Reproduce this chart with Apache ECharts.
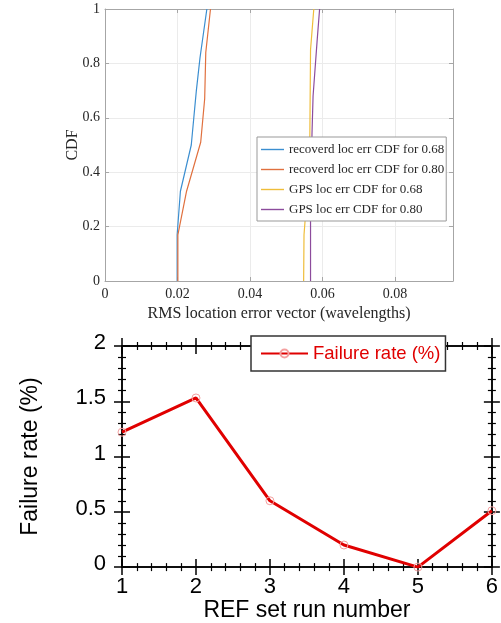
<!DOCTYPE html>
<html><head><meta charset="utf-8">
<script src="https://cdn.jsdelivr.net/npm/echarts@6/dist/echarts.min.js"></script>
<style>html,body{margin:0;padding:0;background:#fff}#c{width:501px;height:623px}</style>
</head><body><div id="c"></div>
<script>
// ---- Top chart: CDF of RMS location error ----
const seriesNamesTop = ['recoverd loc err CDF for 0.68', 'recoverd loc err CDF for 0.80', 'GPS loc err CDF for 0.68', 'GPS loc err CDF for 0.80'];
const rec068X = [0.0199, 0.0199, 0.0208, 0.0238, 0.0245, 0.0252, 0.0262, 0.0281];
const rec068Y = [0, 0.17, 0.33, 0.50, 0.60, 0.70, 0.82, 1];
const rec080X = [0.0201, 0.0201, 0.0225, 0.0264, 0.0275, 0.0278, 0.0291];
const rec080Y = [0, 0.17, 0.33, 0.51, 0.67, 0.84, 1];
const gps068X = [0.0548, 0.0549, 0.0553, 0.0565, 0.0567, 0.0576];
const gps068Y = [0, 0.17, 0.24, 0.52, 0.85, 1];
const gps080X = [0.0567, 0.0567, 0.0571, 0.0574, 0.0585, 0.0592];
const gps080Y = [0, 0.24, 0.54, 0.68, 0.88, 1];
const xTicksTop = [0, 0.02, 0.04, 0.06, 0.08];
const yTicksTop = [0, 0.2, 0.4, 0.6, 0.8, 1];

// ---- Bottom chart: failure rate ----
const runNumbers = [1, 2, 3, 4, 5, 6];
const failureRate = [1.22, 1.53, 0.60, 0.20, 0.00, 0.51];
const bottomSeriesName = 'Failure rate (%)';

const topColors = ['#3b8ed0', '#e0703e', '#efbd3a', '#8c4c9c'];
const zip = (xs, ys) => xs.map((x, i) => [x, ys[i]]);

const serif = 'Liberation Serif';
const sans = 'Liberation Sans';
const boxCol = '#a6a6a6';

function topX(pos, main) {
  return {
    gridIndex: 0, type: 'value', position: pos, min: 0, max: 0.096, interval: 0.02,
    axisLine: { show: true, onZero: false, lineStyle: { color: boxCol, width: 1 } },
    axisTick: { show: true, inside: true, length: 4, lineStyle: { color: boxCol } },
    axisLabel: { show: main, showMaxLabel: false, margin: 6, fontFamily: serif, fontSize: 14, color: '#262626' },
    splitLine: { show: main, lineStyle: { color: '#ebebeb', width: 1 } },
    name: main ? 'RMS location error vector (wavelengths)' : '',
    nameLocation: 'middle', nameGap: 25,
    nameTextStyle: { fontFamily: serif, fontSize: 16, color: '#262626' }
  };
}
function topY(pos, main) {
  return {
    gridIndex: 0, type: 'value', position: pos, min: 0, max: 1, interval: 0.2,
    axisLine: { show: true, onZero: false, lineStyle: { color: boxCol, width: 1 } },
    axisTick: { show: true, inside: true, length: 4, lineStyle: { color: boxCol } },
    axisLabel: { show: main, margin: 5, fontFamily: serif, fontSize: 14, color: '#262626' },
    splitLine: { show: main, lineStyle: { color: '#ebebeb', width: 1 } },
    name: main ? 'CDF' : '',
    nameLocation: 'middle', nameGap: 24, nameRotate: 90, nameMoveOverlap: false,
    nameTextStyle: { fontFamily: serif, fontSize: 16, color: '#262626' }
  };
}
function botX(pos, inside, main) {
  return {
    gridIndex: 1, type: 'value', position: pos, min: 1, max: 6, interval: 1,
    axisLine: { show: true, onZero: false, lineStyle: { color: '#000', width: 1.5 } },
    axisTick: { show: true, inside: inside, length: 8, lineStyle: { color: '#000', width: 1.5 } },
    minorTick: { show: true, splitNumber: 5, length: 4, lineStyle: { color: '#000', width: 1.2 } },
    axisLabel: { show: main, margin: 9, fontFamily: sans, fontSize: 22, color: '#000' },
    splitLine: { show: false },
    name: main ? 'REF set run number' : '',
    nameLocation: 'middle', nameGap: 28,
    nameTextStyle: { fontFamily: sans, fontSize: 23, color: '#000' }
  };
}
function botY(pos, inside, main) {
  return {
    gridIndex: 1, type: 'value', position: pos, min: 0, max: 2, interval: 0.5,
    axisLine: { show: true, onZero: false, lineStyle: { color: '#000', width: 1.5 } },
    axisTick: { show: true, inside: inside, length: 8, lineStyle: { color: '#000', width: 1.5 } },
    minorTick: { show: true, splitNumber: 5, length: 4, lineStyle: { color: '#000', width: 1.2 } },
    axisLabel: { show: main, margin: 16, verticalAlign: 'bottom', lineHeight: 6, fontFamily: sans, fontSize: 22, color: '#000' },
    splitLine: { show: false },
    name: main ? 'Failure rate (%)' : '',
    nameLocation: 'middle', nameGap: 80, nameRotate: 90, nameMoveOverlap: false,
    nameTextStyle: { fontFamily: sans, fontSize: 23, color: '#000' }
  };
}

const chart = echarts.init(document.getElementById('c'), null, { renderer: 'canvas' });
const topData = [zip(rec068X, rec068Y), zip(rec080X, rec080Y), zip(gps068X, gps068Y), zip(gps080X, gps080Y)];

chart.setOption({
  animation: false,
  backgroundColor: '#fff',
  grid: [
    { left: 105, top: 9, width: 348, height: 272 },
    { left: 122, top: 346, width: 375, height: 225 }
  ],
  xAxis: [topX('bottom', true), topX('top', false),
          botX('bottom', false, true), botX('bottom', true, false),
          botX('top', false, false), botX('top', true, false)],
  yAxis: [topY('left', true), topY('right', false),
          botY('left', false, true), botY('left', true, false),
          botY('right', false, false), botY('right', true, false)],
  legend: [
    {
      data: seriesNamesTop, orient: 'vertical', left: 257, top: 137,
      icon: 'path://M0,0 H23 V1.4 H0 Z',
      itemWidth: 23, itemHeight: 14, itemGap: 7,
      padding: [6, 2, 5, 4],
      backgroundColor: '#fff', borderColor: '#999', borderWidth: 1,
      textStyle: { fontFamily: serif, fontSize: 13, color: '#262626' }
    },
    {
      data: [bottomSeriesName], orient: 'horizontal', left: 251, top: 336,
      itemWidth: 47, itemHeight: 10,
      padding: [8, 5, 8, 9],
      backgroundColor: '#fff', borderColor: '#333', borderWidth: 1.5,
      textStyle: { fontFamily: sans, fontSize: 18.5, color: '#e00000' }
    }
  ],
  series: seriesNamesTop.map((n, i) => ({
    name: n, type: 'line', xAxisIndex: 0, yAxisIndex: 0,
    data: topData[i], symbol: 'none', showSymbol: false,
    color: topColors[i],
    lineStyle: { color: topColors[i], width: 1.2 }
  })).concat([{
    name: bottomSeriesName, type: 'line', xAxisIndex: 2, yAxisIndex: 2,
    data: zip(runNumbers, failureRate),
    color: '#e00000',
    symbol: 'circle', symbolSize: 8,
    itemStyle: { color: 'rgba(255,255,255,0)', borderColor: '#f4a0a0', borderWidth: 1 },
    lineStyle: { color: '#e00000', width: 3 }
  }])
});
</script></body></html>
